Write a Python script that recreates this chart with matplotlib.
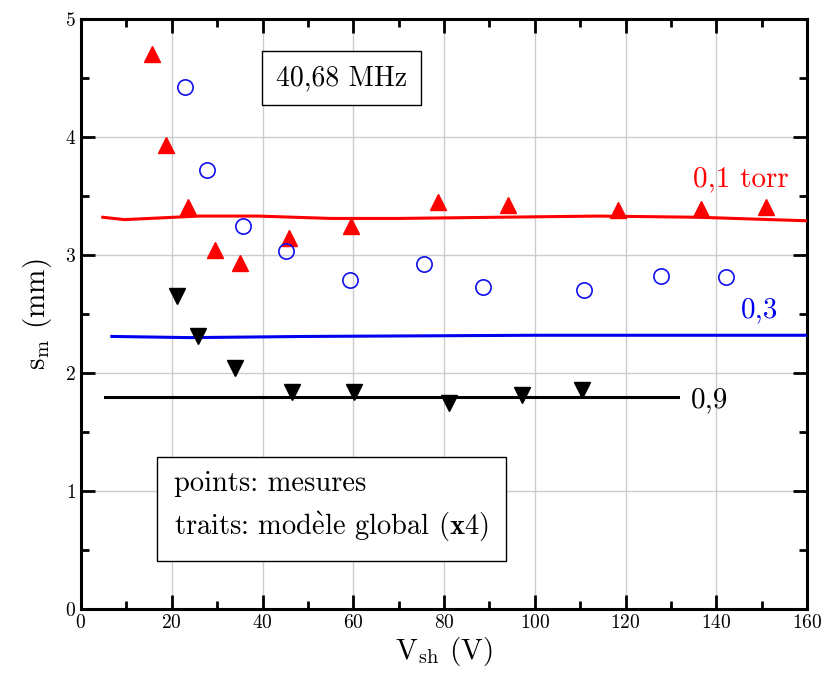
import matplotlib
matplotlib.use('Agg')
from matplotlib import pyplot as plt
from matplotlib.ticker import MultipleLocator

plt.rcParams['font.family'] = ['cmr10', 'DejaVu Serif']
plt.rcParams['mathtext.fontset'] = 'cm'
plt.rcParams['axes.formatter.use_mathtext'] = True
plt.rcParams['axes.unicode_minus'] = False

# measurements (points)
x_01 = [15.6, 18.7, 23.5, 29.6, 35.1, 45.9, 59.5, 78.6, 94.2, 118.3, 136.7, 151.0]
y_01 = [4.70, 3.93, 3.41, 3.04, 2.93, 3.14, 3.25, 3.45, 3.42, 3.38, 3.39, 3.41]
x_03 = [23.0, 27.7, 35.8, 45.2, 59.3, 75.5, 88.5, 110.8, 127.7, 142.2]
y_03 = [4.42, 3.72, 3.25, 3.03, 2.79, 2.92, 2.73, 2.70, 2.82, 2.81]
x_09 = [21.1, 25.7, 34.0, 46.5, 60.1, 81.0, 97.2, 110.4]
y_09 = [2.65, 2.31, 2.04, 1.84, 1.84, 1.75, 1.81, 1.86]

# global model (x4)
mx_01 = [4.8, 9.6, 26, 39, 55, 70, 92, 114, 136, 160]
my_01 = [3.32, 3.30, 3.33, 3.33, 3.31, 3.31, 3.32, 3.33, 3.32, 3.29]
mx_03 = [6.8, 24, 50, 100, 160]
my_03 = [2.31, 2.30, 2.31, 2.32, 2.32]
mx_09 = [5.3, 131.5]
my_09 = [1.80, 1.80]

fig = plt.figure(figsize=(8.22, 6.74), dpi=100)
ax = fig.add_axes([0.0985, 0.0964, 0.8834, 0.8754])

ax.plot(mx_01, my_01, '-', color='red', lw=2.2, zorder=3)
ax.plot(mx_03, my_03, '-', color='#0000ee', lw=2.2, zorder=3)
ax.plot(mx_09, my_09, '-', color='black', lw=2.2, zorder=3)

ax.plot(x_01, y_01, '^', color='red', ms=11, mec='red', zorder=4)
ax.plot(x_03, y_03, 'o', mfc='none', mec='#1010ee', ms=11, mew=1.2, zorder=4)
ax.plot(x_09, y_09, 'v', color='black', ms=11, zorder=4)

ax.text(145.5, 3.64, '0,1 torr', color='red', fontsize=21, ha='center', va='center')
ax.text(149.5, 2.53, '0,3', color='#0000ee', fontsize=21, ha='center', va='center')
ax.text(138.5, 1.77, '0,9', color='black', fontsize=21, ha='center', va='center')

ax.text(57.5, 4.50, '40,68 MHz', fontsize=20, ha='center', va='center',
        bbox=dict(boxstyle='square,pad=0.5', fc='white', ec='black', lw=1))

ax.text(20.5, 0.86,
        'points: mesures\ntraits: mod$\\grave{\\mathrm{e}}$le global $\\mathbf{(x4)}$',
        fontsize=20.5, ha='left', va='center', linespacing=1.5,
        bbox=dict(boxstyle='square,pad=0.6', fc='white', ec='black', lw=1))

ax.set_xlim(0, 160)
ax.set_ylim(0, 5)
ax.xaxis.set_major_locator(MultipleLocator(20))
ax.xaxis.set_minor_locator(MultipleLocator(10))
ax.yaxis.set_major_locator(MultipleLocator(1))
ax.yaxis.set_minor_locator(MultipleLocator(0.5))
ax.tick_params(which='both', direction='in', top=True, right=True, width=2, labelsize=14)
ax.tick_params(which='major', length=10)
ax.tick_params(which='minor', length=6)
for s in ax.spines.values():
    s.set_linewidth(2.2)
ax.grid(True, which='major', color='#cccccc', lw=1)
ax.set_axisbelow(True)

ax.set_xlabel(r'V$_{\mathrm{sh}}$ (V)', fontsize=21, labelpad=2)
ax.set_ylabel(r's$_{\mathrm{m}}$ (mm)', fontsize=21, labelpad=8)

plt.savefig('out.png', dpi=100)
